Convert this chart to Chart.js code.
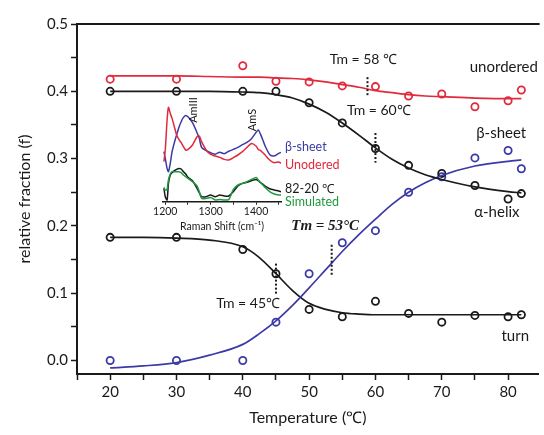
<!DOCTYPE html>
<html>
<head>
<meta charset="utf-8">
<script src="https://cdn.jsdelivr.net/npm/chart.js@4"></script>
<style>
  html, body { margin: 0; padding: 0; background: #fff; }
  #wrap { position: relative; width: 544px; height: 435px; }
  #main { position: absolute; left: 0; top: 0; }
  #inset { position: absolute; left: 150px; top: 95px; }
</style>
</head>
<body>
<div id="wrap">
  <canvas id="main" width="544" height="435"></canvas>
  <canvas id="inset" width="200" height="140"></canvas>
</div>
<script>
// measured points (relative fraction vs temperature)
const temps = [20, 30, 40, 45, 50, 55, 60, 65, 70, 75, 80, 82];
const unordered = [0.418, 0.418, 0.438, 0.415, 0.414, 0.408, 0.407, 0.393, 0.396, 0.377, 0.386, 0.402];
const alphaHelix = [0.400, 0.400, 0.400, 0.400, 0.383, 0.353, 0.315, 0.290, 0.278, 0.260, 0.240, 0.248];
const betaSheet = [0.000, 0.000, 0.000, 0.057, 0.129, 0.175, 0.193, 0.250, 0.273, 0.301, 0.312, 0.285];
const turn = [0.183, 0.183, 0.165, 0.129, 0.076, 0.065, 0.088, 0.070, 0.057, 0.067, 0.065, 0.068];

// fitted curves
const fitTemps = [20, 25, 30, 35, 40, 42.5, 45, 47.5, 50, 52.5, 55, 57.5, 60, 62.5, 65, 67.5, 70, 75, 80, 82];
const unorderedFit = [0.423, 0.423, 0.423, 0.422, 0.421, 0.421, 0.420, 0.419, 0.417, 0.414, 0.410, 0.406, 0.401, 0.398, 0.395, 0.393, 0.392, 0.390, 0.389, 0.389];
const alphaFit = [0.400, 0.400, 0.400, 0.400, 0.399, 0.398, 0.395, 0.390, 0.381, 0.369, 0.353, 0.335, 0.316, 0.299, 0.286, 0.276, 0.269, 0.258, 0.251, 0.249];
const betaFit = [-0.011, -0.008, -0.003, 0.008, 0.024, 0.040, 0.059, 0.082, 0.108, 0.135, 0.162, 0.187, 0.210, 0.232, 0.250, 0.264, 0.275, 0.289, 0.296, 0.298];
const turnFit = [0.183, 0.183, 0.182, 0.179, 0.169, 0.153, 0.129, 0.104, 0.085, 0.076, 0.071, 0.069, 0.068, 0.068, 0.068, 0.068, 0.068, 0.068, 0.068, 0.068];

// inset Raman spectra (arbitrary intensity)
const ramanShift = [1197, 1200, 1204, 1207, 1211, 1215, 1220, 1225, 1230, 1235, 1240, 1245, 1250, 1260, 1270, 1275, 1280, 1290, 1300, 1310, 1320, 1330, 1340, 1350, 1360, 1370, 1380, 1390, 1400, 1405, 1410, 1415, 1420, 1430, 1440, 1450, 1455];
const betaRaman = [50, 43.3, 33.3, 30, 38.3, 50, 59, 66.7, 74.3, 80, 84.3, 86.3, 85, 79, 69, 63.3, 54.3, 51, 49, 47.5, 49.5, 48, 50.5, 52.3, 54.3, 57, 59.3, 63, 69.3, 71.7, 67.3, 61.7, 55.7, 47.3, 45.7, 48.3, 49.3];
const unodRaman = [40, 51.7, 81.7, 94.3, 88.3, 83.3, 75, 66.7, 62.3, 59, 55, 51.7, 52.3, 56.7, 65, 65.7, 60, 51.7, 47.3, 45.7, 44.3, 42.3, 41.7, 44, 46.7, 50, 54.3, 58.3, 55.7, 52.3, 51, 49, 46.7, 41.7, 39, 39.7, 38.3];
const diffRaman = [13.3, 5, 1.7, 18.3, 26.7, 29, 31, 32.3, 33.3, 32.7, 30, 27.7, 24.3, 21, 13.3, 9, 5, 5, 6.7, 5, 6.7, 5.7, 5.7, 10, 15.7, 18.3, 19.3, 21, 22.3, 21, 19, 17.7, 15.7, 13, 11.7, 10.7, 10];
const simRaman = [14.3, 11.7, 12.3, 21.7, 27.7, 30, 30, 30, 30, 29, 26.7, 25, 23.3, 20, 15.7, 10, 3.3, 3.3, 4.3, 1.7, 2.3, 1.7, 2.3, 12.3, 16.7, 18.3, 20, 22.3, 24.3, 21.7, 19, 16.7, 14.3, 10, 7.7, 6.7, 6.7];

const RED = '#e12a3c', BLACK = '#1a1a1a', BLUE = '#3b3aa6', GREEN = '#1f9a3e';
const FONT = 'Lato, "Open Sans", sans-serif';

// text annotations in data units (temperature, fraction)
const mainLabels = [
  { text: 'Tm = 58 \u2103', t: 53.1, v: 0.447, align: 'left' },
  { text: 'unordered', t: 84.5, v: 0.436, align: 'right', size: 15 },
  { text: 'Tm = 60\u2103', t: 55.7, v: 0.372, align: 'left' },
  { text: '\u03b2-sheet', t: 75.2, v: 0.338, align: 'left', size: 15 },
  { text: '\u03b1-helix', t: 74.9, v: 0.220, align: 'left', size: 15 },
  { text: 'turn', t: 79.0, v: 0.036, align: 'left', size: 15 },
  { text: 'Tm = 53\u00b0C', t: 47.3, v: 0.199, align: 'left', serif: true },
  { text: 'Tm = 45\u2103', t: 36.0, v: 0.085, align: 'left' }
];
const tmMarks = [[58.8, 0.421, 0.393], [60, 0.338, 0.294], [53.4, 0.172, 0.126], [45, 0.144, 0.098]];

function pts(xs, ys) { return xs.map((x, i) => ({ x: x, y: ys[i] })); }

function fitLine(ys, color) {
  return { data: pts(fitTemps, ys), borderColor: color, borderWidth: 1.7, pointRadius: 0,
           cubicInterpolationMode: 'monotone', fill: false };
}
function marks(ys, color) {
  return { data: pts(temps, ys), showLine: false, borderColor: color, backgroundColor: 'rgba(0,0,0,0)',
           pointRadius: 3.6, pointBorderWidth: 1.8, pointHoverRadius: 3.6 };
}

const mainDecor = {
  id: 'mainDecor',
  afterDatasetsDraw(chart) {
    const { ctx, chartArea, scales: { x, y } } = chart;
    ctx.save();
    ctx.strokeStyle = BLACK;
    ctx.lineWidth = 2;
    ctx.beginPath();
    ctx.moveTo(chartArea.left - 1, chartArea.top);
    ctx.lineTo(chartArea.right + 1, chartArea.top);
    ctx.stroke();

    // dotted Tm markers
    ctx.setLineDash([2, 2]);
    tmMarks.forEach(m => {
      const px = x.getPixelForValue(m[0]);
      ctx.beginPath();
      ctx.moveTo(px, y.getPixelForValue(m[1]));
      ctx.lineTo(px, y.getPixelForValue(m[2]));
      ctx.stroke();
    });
    ctx.setLineDash([]);

    ctx.textBaseline = 'middle';
    ctx.fillStyle = BLACK;
    mainLabels.forEach(l => {
      ctx.font = l.serif ? 'italic bold 15px "Liberation Serif", "DejaVu Serif", serif'
                         : (l.size || 14) + 'px ' + FONT;
      ctx.textAlign = l.align;
      ctx.fillText(l.text, x.getPixelForValue(l.t), y.getPixelForValue(l.v));
    });
    ctx.restore();
  }
};

new Chart(document.getElementById('main'), {
  type: 'line',
  data: {
    datasets: [
      fitLine(unorderedFit, RED), fitLine(alphaFit, BLACK), fitLine(betaFit, BLUE), fitLine(turnFit, BLACK),
      marks(unordered, RED), marks(alphaHelix, BLACK), marks(betaSheet, BLUE), marks(turn, BLACK)
    ]
  },
  options: {
    responsive: false,
    animation: false,
    layout: { padding: { top: 24, right: 1, left: 0, bottom: 0 } },
    plugins: { legend: { display: false }, tooltip: { enabled: false } },
    scales: {
      x: {
        type: 'linear', min: 15, max: 84.6,
        afterFit(s) { s.height = 61; },
        border: { display: true, color: BLACK, width: 2 },
        grid: { display: true, drawOnChartArea: false, tickLength: 6, color: BLACK, tickWidth: 1.5 },
        ticks: { stepSize: 5, includeBounds: false, autoSkip: false, maxRotation: 0, padding: 3, color: BLACK,
                 font: { family: FONT, size: 15 },
                 callback: v => (v % 10 === 0 ? v : '') },
        title: { display: true, text: 'Temperature (\u2103)', color: BLACK,
                 font: { family: FONT, size: 16 }, padding: { top: 0, bottom: 8 } }
      },
      y: {
        min: -0.02, max: 0.5,
        afterFit(s) { s.width = 77; },
        border: { display: true, color: BLACK, width: 2 },
        grid: { display: true, drawOnChartArea: false, tickLength: 6, color: BLACK, tickWidth: 1.5 },
        ticks: { stepSize: 0.05, includeBounds: false, autoSkip: false, padding: 3, color: BLACK,
                 font: { family: FONT, size: 15 },
                 callback: v => (Math.abs(v * 10 - Math.round(v * 10)) < 1e-6 ? v.toFixed(1) : '') },
        title: { display: true, text: 'relative fraction (f)', color: BLACK,
                 font: { family: FONT, size: 16 }, padding: { top: 15, bottom: 0 } }
      }
    }
  },
  plugins: [mainDecor]
});

// inset: Raman spectra
const insetLabels = [
  { text: '\u03b2-sheet', v: 54.7, color: BLUE },
  { text: 'Unodered', v: 36.7, color: RED },
  { text: '82-20 \u2103', v: 12.7, color: BLACK },
  { text: 'Simulated', v: 0, color: GREEN }
];
const bandLabels = [
  { text: 'AmIII', cm: 1261.5, v: 91.7 },
  { text: 'AmS', cm: 1393, v: 81.7 }
];

const insetDecor = {
  id: 'insetDecor',
  afterDatasetsDraw(chart) {
    const { ctx, chartArea, scales: { x, y } } = chart;
    ctx.save();
    ctx.textBaseline = 'middle';
    ctx.textAlign = 'left';
    ctx.font = '12.5px ' + FONT;
    insetLabels.forEach(l => {
      ctx.fillStyle = l.color;
      ctx.fillText(l.text, chartArea.right + 4, y.getPixelForValue(l.v));
    });
    ctx.fillStyle = BLACK;
    ctx.font = '11px ' + FONT;
    ctx.textAlign = 'center';
    bandLabels.forEach(b => {
      ctx.save();
      ctx.translate(x.getPixelForValue(b.cm), y.getPixelForValue(b.v));
      ctx.rotate(-Math.PI / 2);
      ctx.fillText(b.text, 0, 0);
      ctx.restore();
    });
    ctx.restore();
  }
};

function ramanLine(ys, color) {
  return { data: pts(ramanShift, ys), borderColor: color, borderWidth: 1.5, pointRadius: 0,
           tension: 0.25, fill: false };
}

new Chart(document.getElementById('inset'), {
  type: 'line',
  data: {
    datasets: [ramanLine(unodRaman, RED), ramanLine(betaRaman, BLUE), ramanLine(simRaman, GREEN), ramanLine(diffRaman, BLACK)]
  },
  options: {
    responsive: false,
    animation: false,
    layout: { padding: { left: 13, right: 69, top: 6.7, bottom: 0 } },
    plugins: { legend: { display: false }, tooltip: { enabled: false } },
    scales: {
      x: {
        type: 'linear', min: 1195, max: 1455,
        afterFit(s) { s.height = 33.3; },
        border: { display: true, color: BLACK, width: 1.5 },
        grid: { display: true, drawOnChartArea: false, tickLength: 3, color: BLACK },
        ticks: { stepSize: 50, includeBounds: false, autoSkip: false, maxRotation: 0, padding: 1, color: BLACK,
                 font: { family: FONT, size: 10.5 },
                 callback: v => (v % 100 === 0 ? v : '') },
        title: { display: true, text: 'Raman Shift (cm\u207b\u00b9)', color: BLACK,
                 font: { family: FONT, size: 10.5 }, padding: { top: 0, bottom: 1.7 } }
      },
      y: { display: false, min: 0, max: 100 }
    }
  },
  plugins: [insetDecor]
});
</script>
</body>
</html>
